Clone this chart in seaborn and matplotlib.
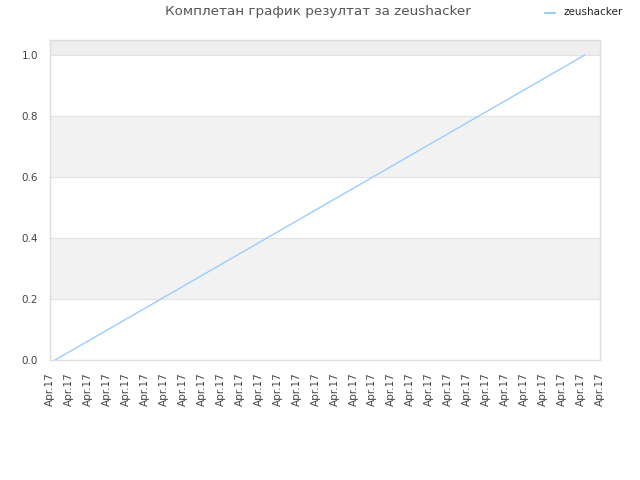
import matplotlib
matplotlib.use("Agg")
import matplotlib.pyplot as plt
import seaborn as sns
import pandas as pd
import numpy as np

title = "Комплетан график резултат за zeushacker"
series_name = "zeushacker"
x_values = [0.27, 28.2]
y_values = [0.0, 1.0]
tick_labels = ["Apr.17"] * 30
y_ticks = [0.0, 0.2, 0.4, 0.6, 0.8, 1.0]

sns.set_theme(style="white")
plt.rcParams['font.family'] = ['DejaVu Sans']

df = pd.DataFrame({"x": x_values, "y": y_values, "s": series_name})

fig = plt.figure(figsize=(6.4, 4.8), dpi=100)
ax = fig.add_axes([50/640, 1-360/480, 550/640, 320/480])

ymax = 1.049
# alternating bands
for i in range(len(y_ticks) - 1):
    if i % 2 == 1:
        ax.axhspan(y_ticks[i], y_ticks[i+1], color="#f2f2f2", zorder=0, lw=0)
ax.axhspan(y_ticks[-1], ymax, color="#eeeeee", zorder=0, lw=0)
for t in y_ticks[1:]:
    ax.axhline(t, color="#e2e2e2", lw=0.8, zorder=1)

sns.lineplot(data=df, x="x", y="y", ax=ax, color="#99ccff", lw=1.0, legend=False, zorder=3)

ax.set_xlim(0, len(tick_labels) - 1)
ax.set_ylim(0, ymax)
ax.set_xticks(range(len(tick_labels)))
ax.set_xticklabels(tick_labels, rotation=90, fontsize=7.5, color="#444444")
ax.set_yticks(y_ticks)
ax.set_yticklabels([f"{v:.1f}" for v in y_ticks], fontsize=7.5, color="#444444")
ax.tick_params(axis="x", length=0, pad=9)
ax.tick_params(axis="y", length=0, pad=8.5)
ax.set_xlabel("")
ax.set_ylabel("")
for sp in ax.spines.values():
    sp.set_color("#dddddd")
    sp.set_linewidth(1.0)

fig.text(318/640, 1-12/480, title, ha="center", va="center", fontsize=9.7, color="#555555")
fig.lines.append(plt.Line2D([545/640, 555/640], [1-13/480, 1-13/480], color="#99ccff", lw=1.5, transform=fig.transFigure))
fig.text(564/640, 1-12/480, series_name, ha="left", va="center", fontsize=7.5, color="#222222")

fig.savefig("out.png", dpi=100)
